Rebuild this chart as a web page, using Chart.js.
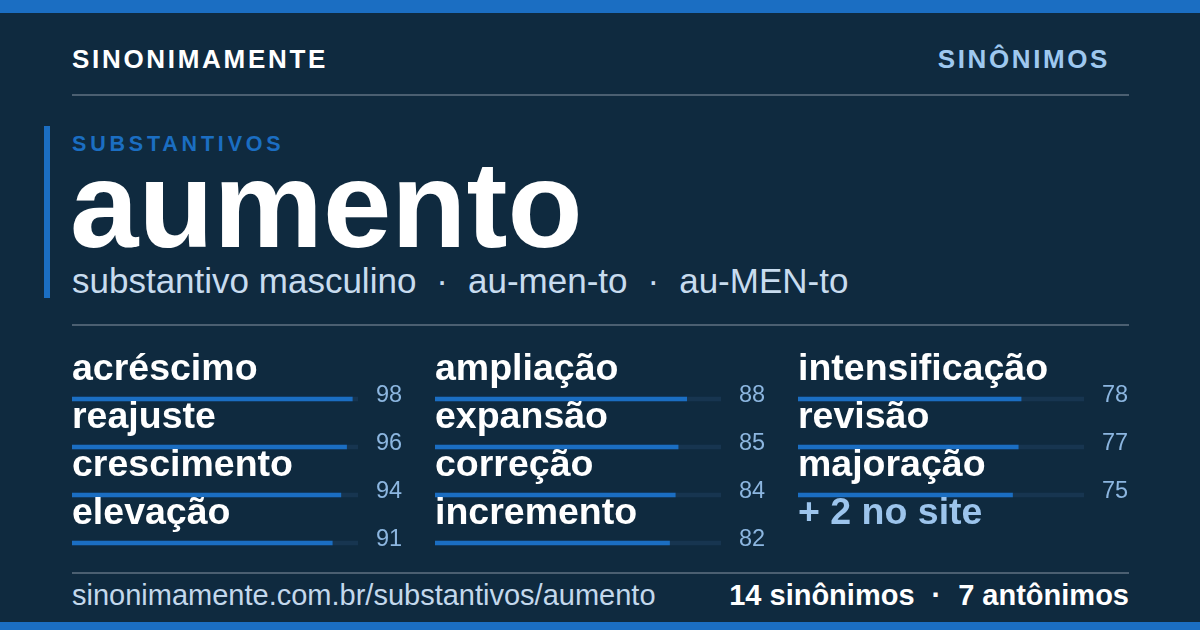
<!DOCTYPE html>
<html>
<head>
<meta charset="utf-8">
<script src="https://cdn.jsdelivr.net/npm/chart.js@4"></script>
<style>
  html, body { margin: 0; padding: 0; }
  body { width: 1200px; height: 630px; background: #0f2a3f; position: relative; overflow: hidden;
         font-family: "Liberation Sans", Arial, sans-serif; }
  .abs { position: absolute; line-height: 1; white-space: nowrap; }
  #topbar { left: 0; top: 0; width: 1200px; height: 13px; background: #1b6ec2; }
  #botbar { left: 0; top: 622px; width: 1200px; height: 8px; background: #1b6ec2; }
  .rule { left: 72px; width: 1057px; height: 2px; background: #4b5f71; }
  #brand { left: 72px; top: 46px; font-size: 26px; font-weight: bold; color: #ffffff; letter-spacing: 2.7px; }
  #kind { right: 90px; top: 46px; font-size: 26px; font-weight: bold; color: #9ec8ef; letter-spacing: 2.6px; }
  #accent { left: 44px; top: 126px; width: 6px; height: 172px; background: #1b6ec2; }
  #cat { left: 72px; top: 134px; font-size: 21.5px; font-weight: bold; color: #1b6ec2; letter-spacing: 3.8px; }
  #word { left: 70px; top: 143px; font-size: 123px; font-weight: bold; color: #ffffff; }
  #sub { left: 72px; top: 263px; font-size: 35px; color: #c8dcef; }
  .sep { margin: 0 20px; }
  #url { left: 72px; top: 581px; font-size: 29px; color: #c3d8ec; }
  #counts { right: 71px; top: 581px; font-size: 29px; font-weight: bold; color: #ffffff; }
  .sep2 { margin: 0 17px; }
  canvas.col { position: absolute; top: 340px; }
</style>
</head>
<body>
<div class="abs" id="topbar"></div>
<div class="abs" id="brand">SINONIMAMENTE</div>
<div class="abs" id="kind">SINÔNIMOS</div>
<div class="abs rule" style="top:94px"></div>
<div class="abs" id="accent"></div>
<div class="abs" id="cat">SUBSTANTIVOS</div>
<div class="abs" id="word">aumento</div>
<div class="abs" id="sub">substantivo masculino<span class="sep">·</span>au-men-to<span class="sep">·</span>au-MEN-to</div>
<div class="abs rule" style="top:324px"></div>
<canvas class="col" id="c1" width="340" height="230" style="left:72px"></canvas>
<canvas class="col" id="c2" width="340" height="230" style="left:435px"></canvas>
<canvas class="col" id="c3" width="340" height="230" style="left:798px"></canvas>
<div class="abs rule" style="top:572px"></div>
<div class="abs" id="url">sinonimamente.com.br/substantivos/aumento</div>
<div class="abs" id="counts">14 sinônimos<span class="sep2">·</span>7 antônimos</div>
<div class="abs" id="botbar"></div>

<script>
// ---- data ----
const col1Words = ['acréscimo', 'reajuste', 'crescimento', 'elevação'];
const col1Values = [98, 96, 94, 91];
const col2Words = ['ampliação', 'expansão', 'correção', 'incremento'];
const col2Values = [88, 85, 84, 82];
const col3Words = ['intensificação', 'revisão', 'majoração'];
const col3Values = [78, 77, 75];
const moreLabel = '+ 2 no site';
const scaleMax = 100;

const FILL = '#1b6ec2', TRACK = '#173550';

const labelPlugin = {
  id: 'rowLabels',
  afterDatasetsDraw(chart) {
    const ctx = chart.ctx, area = chart.chartArea;
    const ys = chart.scales.y;
    const labels = chart.data.labels;
    const vals = chart.data.datasets[0].data;
    ctx.save();
    ctx.textBaseline = 'alphabetic';
    labels.forEach((lab, i) => {
      const y = ys.getPixelForValue(i);
      const isMore = vals[i] === null || vals[i] === undefined;
      ctx.font = 'bold 37.5px "Liberation Sans", Arial, sans-serif';
      ctx.fillStyle = isMore ? '#9cc4ec' : '#ffffff';
      ctx.textAlign = 'left';
      ctx.fillText(lab, area.left, y - 19);
      if (!isMore) {
        ctx.font = '23.5px "Liberation Sans", Arial, sans-serif';
        ctx.fillStyle = '#8cb6e0';
        ctx.fillText(String(vals[i]), area.right + 18, y + 3);
      }
    });
    ctx.restore();
  }
};

function makeCol(id, words, values, extra) {
  const labels = extra ? words.concat([extra]) : words.slice();
  const fillData = extra ? values.concat([null]) : values.slice();
  const trackData = words.map(() => scaleMax).concat(extra ? [null] : []);
  new Chart(document.getElementById(id), {
    type: 'bar',
    data: {
      labels: labels,
      datasets: [
        { data: fillData, backgroundColor: FILL, barThickness: 4, grouped: false, borderWidth: 0, borderRadius: 0 },
        { data: trackData, backgroundColor: TRACK, barThickness: 4, grouped: false, borderWidth: 0, borderRadius: 0 }
      ]
    },
    options: {
      indexAxis: 'y',
      responsive: false,
      animation: false,
      devicePixelRatio: 1,
      layout: { padding: { top: 35, bottom: 3, left: 0, right: 54 } },
      scales: {
        x: { display: false, min: 0, max: scaleMax },
        y: { display: false, offset: true }
      },
      plugins: { legend: { display: false }, tooltip: { enabled: false } }
    },
    plugins: [labelPlugin]
  });
}

makeCol('c1', col1Words, col1Values);
makeCol('c2', col2Words, col2Values);
makeCol('c3', col3Words, col3Values, moreLabel);
</script>
</body>
</html>
